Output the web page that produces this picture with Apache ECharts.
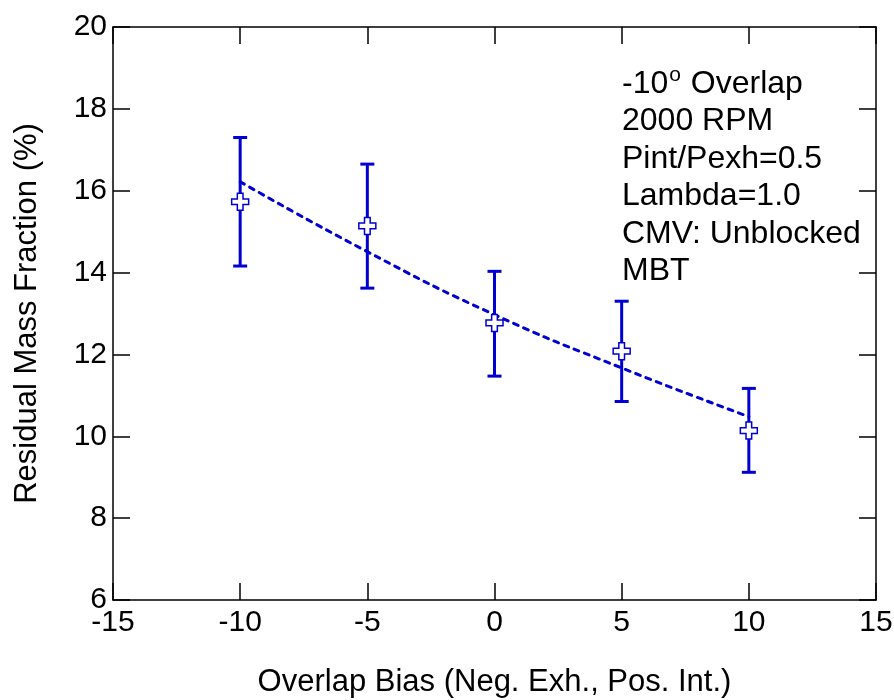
<!DOCTYPE html>
<html>
<head>
<meta charset="utf-8">
<script src="https://cdn.jsdelivr.net/npm/echarts@6/dist/echarts.min.js"></script>
<style>
  html, body { margin: 0; padding: 0; background: #fff; }
  #chart { width: 894px; height: 700px; }
</style>
</head>
<body>
<div id="chart"></div>
<script>
// measured points (overlap bias vs residual mass fraction)
const biasValues = [-10, -5, 0, 5, 10];
const residual = [15.73, 15.14, 12.77, 12.08, 10.14];
const errLow = [14.16, 13.62, 11.47, 10.85, 9.12];
const errHigh = [17.30, 16.65, 14.03, 13.30, 11.17];
// dotted fit curve
const fitX = [-10, -5, 0, 5, 10];
const fitY = [16.22, 14.51, 12.97, 11.67, 10.48];

const xTicks = [-15, -10, -5, 0, 5, 10, 15];
const yTicks = [6, 8, 10, 12, 14, 16, 18, 20];

const notes = ['{a|-10}{sup|o}{a| Overlap}', '2000 RPM', 'Pint/Pexh=0.5', 'Lambda=1.0', 'CMV: Unblocked', 'MBT'];

const blue = '#0000d2';
const font = '"Liberation Sans", Arial, sans-serif';

const chart = echarts.init(document.getElementById('chart'), null, { renderer: 'canvas' });

const tickStyle = { show: true, inside: true, length: 17, lineStyle: { color: '#000', width: 1.5 } };
const lineStyle = { show: true, onZero: false, lineStyle: { color: '#000', width: 1.5 } };

const option = {
  animation: false,
  backgroundColor: '#fff',
  grid: { left: 113, right: 18, top: 27, bottom: 100, containLabel: false, outerBoundsMode: 'none' },
  xAxis: [
    {
      type: 'value', min: xTicks[0], max: xTicks[xTicks.length - 1], interval: 5, position: 'bottom',
      axisLine: lineStyle, axisTick: tickStyle, splitLine: { show: false },
      axisLabel: { fontFamily: font, fontSize: 30, color: '#000', margin: 8 },
      name: 'Overlap Bias (Neg. Exh., Pos. Int.)', nameLocation: 'middle', nameGap: 67,
      nameTextStyle: { fontFamily: font, fontSize: 31, color: '#000' }
    },
    {
      type: 'value', min: xTicks[0], max: xTicks[xTicks.length - 1], interval: 5, position: 'top',
      axisLine: lineStyle, axisTick: tickStyle, axisLabel: { show: false }, splitLine: { show: false }
    }
  ],
  yAxis: [
    {
      type: 'value', min: yTicks[0], max: yTicks[yTicks.length - 1], interval: 2, position: 'left',
      axisLine: lineStyle, axisTick: tickStyle, splitLine: { show: false },
      axisLabel: { fontFamily: font, fontSize: 30, color: '#000', margin: 6 },
      name: 'Residual Mass Fraction (%)', nameLocation: 'middle', nameGap: 70,
      nameTextStyle: { fontFamily: font, fontSize: 31, color: '#000' }
    },
    {
      type: 'value', min: yTicks[0], max: yTicks[yTicks.length - 1], interval: 2, position: 'right',
      axisLine: lineStyle, axisTick: tickStyle, axisLabel: { show: false }, splitLine: { show: false }
    }
  ],
  series: [
    {
      type: 'line',
      data: fitX.map((x, i) => [x, fitY[i]]),
      smooth: true,
      showSymbol: false,
      lineStyle: { color: blue, width: 3, type: [5, 6], cap: 'round' },
      z: 2
    },
    {
      type: 'custom',
      data: biasValues.map((x, i) => [x, errLow[i], errHigh[i]]),
      renderItem: (params, api) => {
        const lo = api.coord([api.value(0), api.value(1)]);
        const hi = api.coord([api.value(0), api.value(2)]);
        const w = 7;
        const st = { stroke: blue, lineWidth: 3 };
        return {
          type: 'group',
          children: [
            { type: 'line', shape: { x1: lo[0], y1: lo[1], x2: hi[0], y2: hi[1] }, style: st },
            { type: 'line', shape: { x1: lo[0] - w, y1: lo[1], x2: lo[0] + w, y2: lo[1] }, style: st },
            { type: 'line', shape: { x1: hi[0] - w, y1: hi[1], x2: hi[0] + w, y2: hi[1] }, style: st }
          ]
        };
      },
      z: 3
    },
    {
      type: 'scatter',
      data: biasValues.map((x, i) => [x, residual[i]]),
      symbol: 'path://M3,0 H6 V3 H9 V6 H6 V9 H3 V6 H0 V3 H3 Z',
      symbolSize: 17,
      itemStyle: { color: '#fff', borderColor: blue, borderWidth: 1.5, opacity: 1 },
      z: 4
    }
  ],
  graphic: [
    {
      type: 'text', left: 622, top: 65,
      style: {
        text: notes.join('\n'),
        fontFamily: font, fontSize: 32, lineHeight: 37.5, fill: '#000',
        rich: {
          a: { fontFamily: font, fontSize: 32, lineHeight: 37.5, fill: '#000' },
          sup: { fontFamily: font, fontSize: 21, lineHeight: 2, fill: '#000', verticalAlign: 'top', padding: [0, 1, 0, 1] }
        }
      }
    }
  ]
};

chart.setOption(option);
</script>
</body>
</html>
